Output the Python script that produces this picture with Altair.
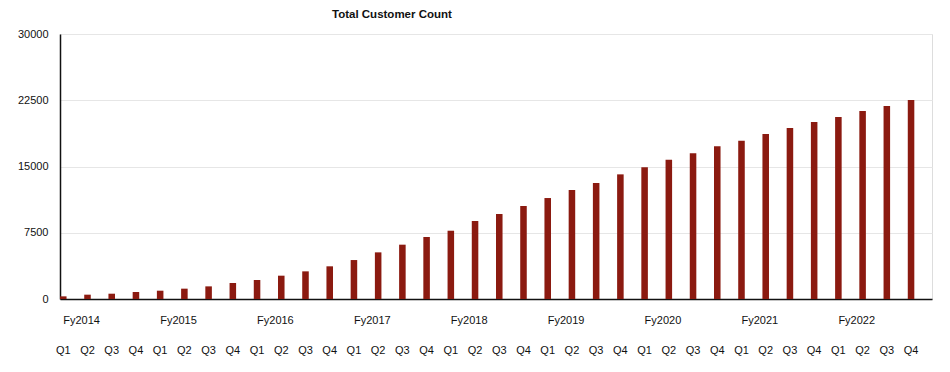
import altair as alt
import pandas as pd

years = ["Fy2014", "Fy2015", "Fy2016", "Fy2017", "Fy2018",
         "Fy2019", "Fy2020", "Fy2021", "Fy2022"]
quarters = ["Q1", "Q2", "Q3", "Q4"]
customers = [300, 490, 600, 790, 940, 1170, 1430, 1810, 2150, 2640, 3130, 3700,
             4410, 5280, 6150, 7020, 7730, 8830, 9620, 10530, 11430, 12340, 13130, 14110,
             14910, 15770, 16490, 17280, 17920, 18680, 19360, 20040, 20600, 21280, 21850, 22530]
y_ticks = [0, 7500, 15000, 22500, 30000]

periods = [f"{y} {q}" for y in years for q in quarters]
df = pd.DataFrame({"period": periods, "customers": customers})

FONT = "Liberation Sans"
BAR = "#8B1A10"

xscale = alt.Scale(paddingInner=0.73, paddingOuter=0.365, align=0)

bars = alt.Chart(df).mark_bar(color=BAR).encode(
    x=alt.X("period:N", sort=periods, scale=xscale, title=None,
            axis=alt.Axis(orient="bottom", labelExpr="split(datum.label, ' ')[1]",
                          labelAngle=0, labelAlign="center", labelPadding=45,
                          tickSize=0, ticks=False, labelOverlap=False, labelBound=False,
                          labelFlush=False, domainColor="#111", domainWidth=1.5,
                          labelFont=FONT, labelFontSize=11, labelColor="#111")),
    y=alt.Y("customers:Q", scale=alt.Scale(domain=[0, 30000], nice=False), title=None,
            axis=alt.Axis(values=y_ticks, format="d", tickSize=0, ticks=False, labelPadding=12,
                          gridColor="#e6e6e6", gridWidth=1, domainColor="#111",
                          domainWidth=1.5, labelFont=FONT, labelFontSize=11,
                          labelColor="#111", labelBaseline="middle")),
)

year_layer = alt.Chart(df).mark_point(opacity=0).encode(
    x=alt.X("period:N", sort=periods, scale=xscale, title=None,
            axis=alt.Axis(orient="bottom",
                          labelExpr="indexof(datum.label, 'Q1') >= 0 ? split(datum.label, ' ')[0] : ''",
                          labelAngle=0, labelAlign="left", labelPadding=15,
                          tickSize=0, ticks=False, domain=False, grid=False,
                          labelOverlap=False, labelBound=False, labelFlush=False,
                          labelFont=FONT, labelFontSize=11, labelColor="#111")),
)

chart = alt.layer(bars, year_layer).resolve_axis(x="independent").properties(
    width=872,
    height=265,
    title=alt.TitleParams("Total Customer Count", anchor="start", frame="group", dx=272,
                          offset=8, font=FONT, fontSize=11.5, fontWeight="bold", color="#111"),
    autosize=alt.AutoSizeParams(type="none"),
    padding={"left": 52, "top": 26, "right": 10, "bottom": 60},
).configure_view(stroke="#444", strokeWidth=1.5).configure(background="white")

chart.save("out.html", embed_options={"renderer": "svg", "actions": False})
